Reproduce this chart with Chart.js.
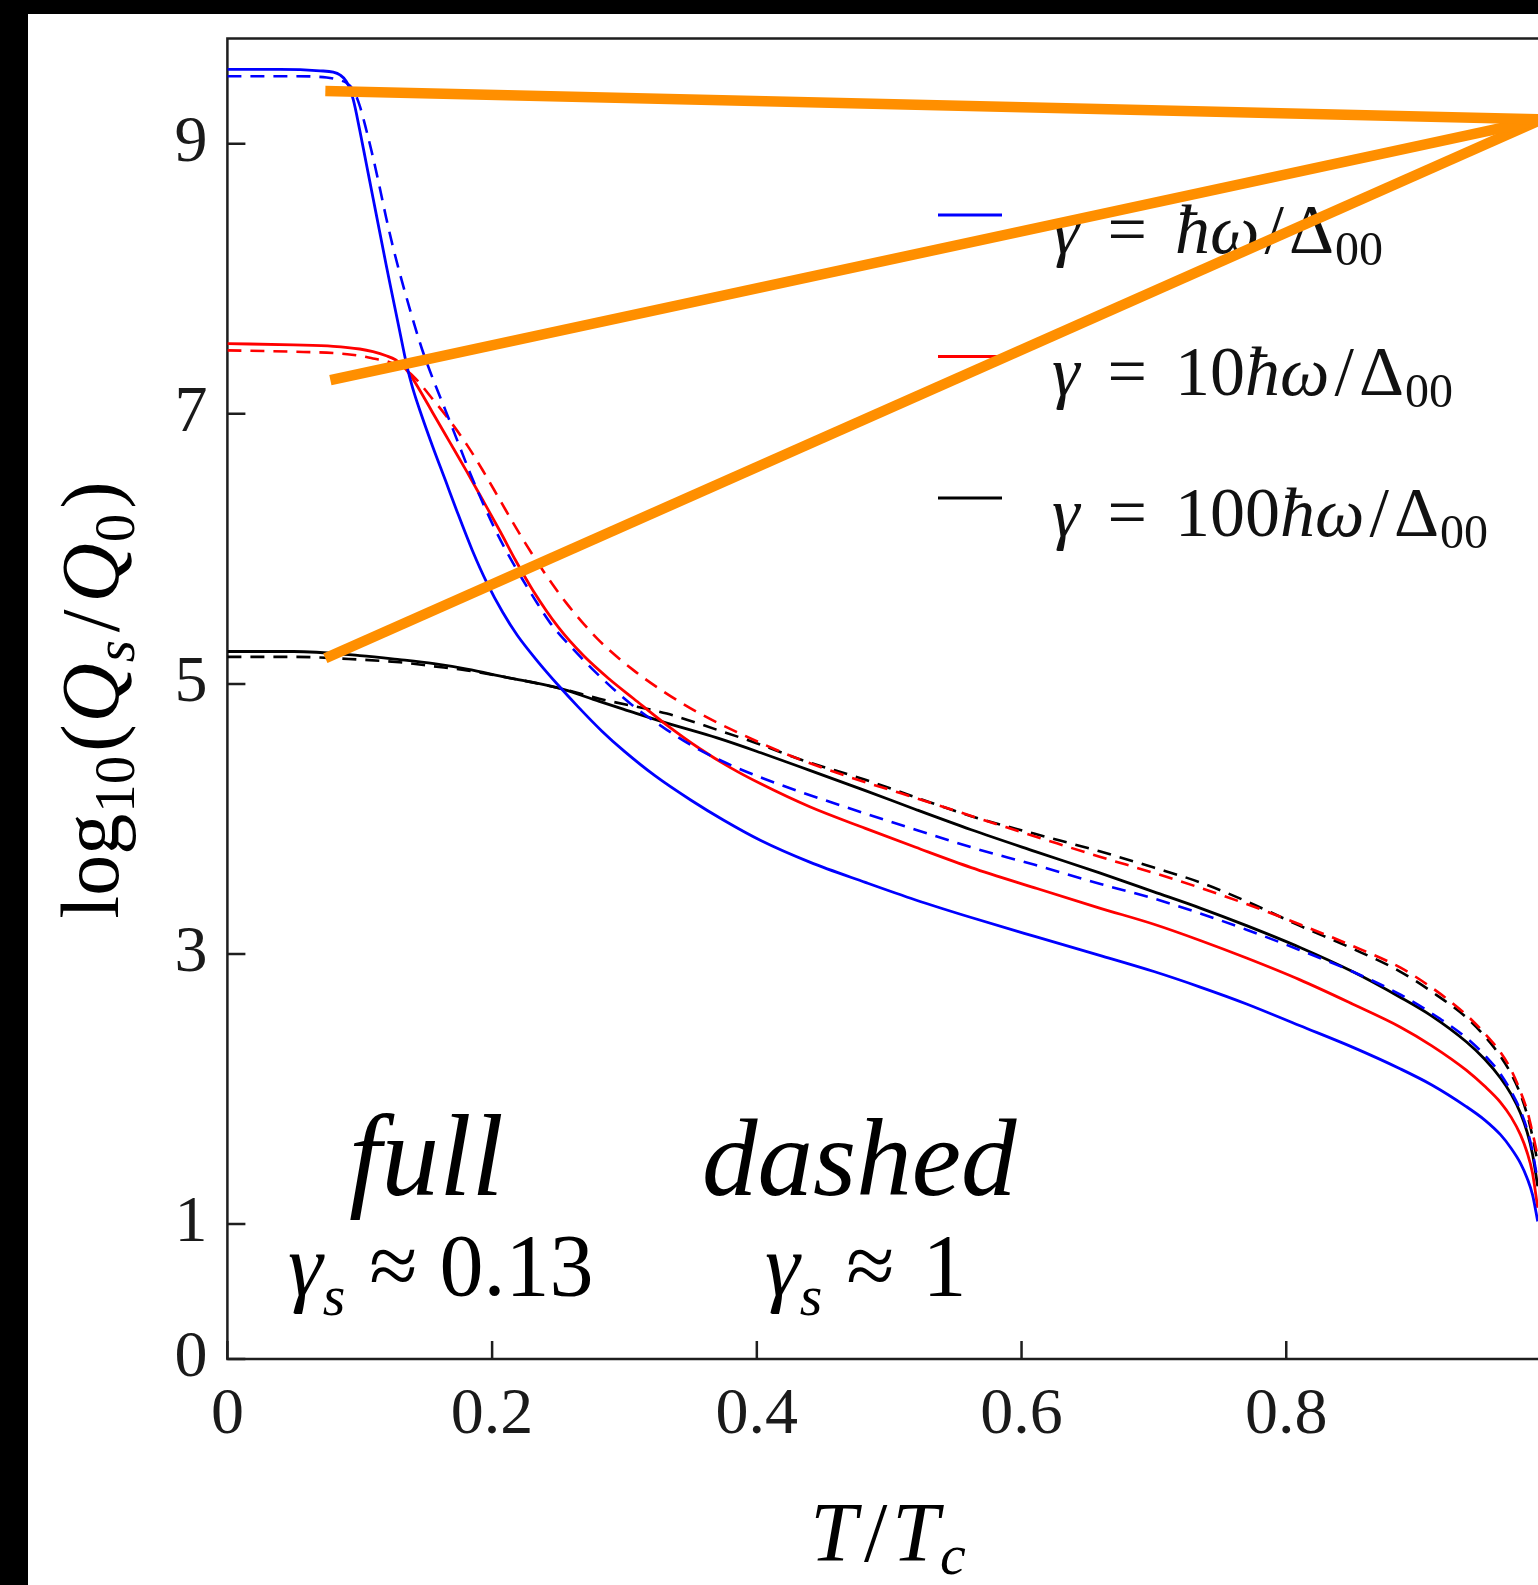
<!DOCTYPE html>
<html>
<head>
<meta charset="utf-8">
<title>Q factor vs temperature</title>
<script src="https://cdn.jsdelivr.net/npm/chart.js@4.4.1/dist/chart.umd.min.js"></script>
<style>
  html, body { margin: 0; padding: 0; background: #000; overflow: hidden; }
  #sheet { position: absolute; left: 28px; top: 14px; width: 1510px; height: 1571px; background: #fff; }
  canvas { display: block; }
</style>
</head>
<body>
<div id="sheet"><canvas id="qsChart" width="1510" height="1571"></canvas></div>
<script>
// log10(Qs/Q0) against T/Tc, pairs of [T/Tc, log10 Q]
// solid: gamma_s ~ 0.13, dashed: gamma_s ~ 1
const blueFull = [
  [0, 9.55], [0.04, 9.55], [0.07, 9.54], [0.08, 9.53], [0.085, 9.51], [0.09, 9.46],
  [0.095, 9.33], [0.1, 9.10], [0.105, 8.85], [0.11, 8.60], [0.115, 8.35], [0.12, 8.10],
  [0.125, 7.86], [0.13, 7.62], [0.1355, 7.36], [0.14, 7.19], [0.147, 6.98], [0.155, 6.76],
  [0.165, 6.50], [0.173, 6.29], [0.185, 5.99], [0.196, 5.75], [0.208, 5.53], [0.219, 5.36],
  [0.235, 5.16], [0.25, 4.99], [0.265, 4.83], [0.283, 4.65], [0.3, 4.50], [0.323, 4.32],
  [0.35, 4.14], [0.375, 3.99], [0.403, 3.84], [0.44, 3.68], [0.482, 3.53], [0.52, 3.40],
  [0.562, 3.27], [0.61, 3.13], [0.659, 2.99], [0.7, 2.87], [0.735, 2.755], [0.77, 2.63],
  [0.81, 2.47], [0.85, 2.31], [0.886, 2.15], [0.91, 2.03], [0.936, 1.87], [0.95, 1.77],
  [0.962, 1.66], [0.97, 1.56], [0.977, 1.45], [0.982, 1.34], [0.986, 1.22], [0.99, 1.02]
];
const blueDashed = [
  [0, 9.50], [0.05, 9.50], [0.075, 9.49], [0.085, 9.47], [0.09, 9.45], [0.095, 9.40],
  [0.1, 9.28], [0.105, 9.10], [0.11, 8.90], [0.115, 8.68], [0.12, 8.45], [0.125, 8.24],
  [0.13, 8.05], [0.138, 7.77], [0.147, 7.48], [0.156, 7.24], [0.165, 7.02], [0.173, 6.82],
  [0.183, 6.57], [0.193, 6.34], [0.205, 6.09], [0.219, 5.84], [0.232, 5.63], [0.244, 5.45],
  [0.26, 5.27], [0.281, 5.06], [0.305, 4.85], [0.332, 4.66], [0.355, 4.52], [0.38, 4.40],
  [0.405, 4.30], [0.433, 4.20], [0.482, 4.04], [0.52, 3.92], [0.562, 3.79], [0.61, 3.66],
  [0.659, 3.52], [0.7, 3.41], [0.735, 3.30], [0.77, 3.18], [0.81, 3.03], [0.85, 2.87],
  [0.886, 2.70], [0.91, 2.56], [0.936, 2.38], [0.95, 2.25], [0.962, 2.11], [0.97, 1.98],
  [0.977, 1.84], [0.982, 1.70], [0.986, 1.54], [0.99, 1.32]
];
const redFull = [
  [0, 7.52], [0.05, 7.51], [0.08, 7.50], [0.1, 7.48], [0.11, 7.46], [0.12, 7.43],
  [0.127, 7.40], [0.133, 7.35], [0.138, 7.29], [0.145, 7.18], [0.155, 7.01], [0.168, 6.79],
  [0.181, 6.57], [0.193, 6.36], [0.206, 6.13], [0.218, 5.91], [0.231, 5.69], [0.25, 5.42],
  [0.269, 5.21], [0.288, 5.04], [0.307, 4.89], [0.33, 4.71], [0.357, 4.52], [0.38, 4.38],
  [0.403, 4.26], [0.44, 4.09], [0.482, 3.93], [0.52, 3.79], [0.562, 3.64], [0.61, 3.49],
  [0.659, 3.34], [0.7, 3.22], [0.735, 3.10], [0.77, 2.97], [0.81, 2.81], [0.85, 2.63],
  [0.886, 2.46], [0.91, 2.32], [0.936, 2.14], [0.95, 2.02], [0.962, 1.90], [0.97, 1.79],
  [0.977, 1.66], [0.982, 1.53], [0.986, 1.38], [0.99, 1.12]
];
const redDashed = [
  [0, 7.47], [0.05, 7.46], [0.08, 7.45], [0.1, 7.43], [0.11, 7.41], [0.12, 7.39],
  [0.13, 7.35], [0.138, 7.30], [0.145, 7.23], [0.155, 7.11], [0.168, 6.95], [0.181, 6.77],
  [0.193, 6.58], [0.206, 6.36], [0.219, 6.14], [0.237, 5.86], [0.256, 5.60], [0.28, 5.33],
  [0.307, 5.10], [0.33, 4.94], [0.357, 4.78], [0.39, 4.62], [0.43, 4.45], [0.47, 4.31],
  [0.509, 4.19], [0.55, 4.06], [0.588, 3.94], [0.62, 3.84], [0.659, 3.72], [0.7, 3.60],
  [0.735, 3.49], [0.77, 3.37], [0.81, 3.22], [0.85, 3.06], [0.886, 2.90], [0.91, 2.75],
  [0.936, 2.55], [0.95, 2.41], [0.962, 2.27], [0.97, 2.14], [0.977, 1.98], [0.982, 1.84],
  [0.986, 1.68], [0.99, 1.50]
];
const blackFull = [
  [0, 5.24], [0.05, 5.24], [0.1, 5.21], [0.13, 5.18], [0.156, 5.15], [0.181, 5.11],
  [0.21, 5.05], [0.25, 4.97], [0.281, 4.87], [0.3, 4.81], [0.332, 4.71], [0.37, 4.60],
  [0.403, 4.49], [0.44, 4.36], [0.482, 4.21], [0.52, 4.07], [0.562, 3.92], [0.61, 3.76],
  [0.659, 3.60], [0.7, 3.46], [0.735, 3.34], [0.77, 3.21], [0.81, 3.05], [0.85, 2.87],
  [0.886, 2.68], [0.91, 2.54], [0.936, 2.35], [0.95, 2.22], [0.962, 2.08], [0.97, 1.96],
  [0.977, 1.82], [0.982, 1.68], [0.986, 1.52], [0.99, 1.28]
];
const blackDashed = [
  [0, 5.20], [0.05, 5.20], [0.1, 5.18], [0.13, 5.16], [0.156, 5.13], [0.181, 5.10],
  [0.21, 5.05], [0.25, 4.97], [0.281, 4.89], [0.332, 4.78], [0.37, 4.66], [0.403, 4.55],
  [0.433, 4.44], [0.482, 4.29], [0.52, 4.16], [0.562, 4.02], [0.61, 3.89], [0.659, 3.76],
  [0.7, 3.64], [0.735, 3.53], [0.77, 3.39], [0.81, 3.21], [0.85, 3.04], [0.886, 2.87],
  [0.91, 2.72], [0.936, 2.53], [0.95, 2.39], [0.962, 2.24], [0.97, 2.11], [0.977, 1.96],
  [0.982, 1.81], [0.986, 1.65], [0.99, 1.45]
];

// orange pointers from the three plateaus to a common vertex
const pointerStarts = [[0.074, 9.39], [0.0778, 7.25], [0.074, 5.19]];
const pointerVertex = [0.993, 9.18];

const xTicks = [0, 0.2, 0.4, 0.6, 0.8];
const yTicks = [0, 1, 3, 5, 7, 9];
const legendCoefs = ['', '10', '100'];

const serif = '"Liberation Serif", "Times New Roman", serif';
const up = s => `${s}px ${serif}`;
const it = s => `italic ${s}px ${serif}`;
const axisColor = '#1e1e1e';
const tickLen = 18;
const lineColors = ['#0000ff', '#ff0000', '#000000'];

function toXY(pts) {
    return pts.map(([t, q]) => ({ x: t, y: q }));
}

function curve(pts, color, dashed) {
    return {
        data: toXY(pts),
        borderColor: color,
        borderWidth: dashed ? 2.6 : 2.8,
        borderDash: dashed ? [14, 9] : [],
        cubicInterpolationMode: 'monotone',
        pointRadius: 0,
        fill: false,
        order: 2
    };
}

function pointer(start) {
    return {
        data: toXY([start, pointerVertex]),
        borderColor: 'rgb(255,143,0)',
        borderWidth: 10.5,
        borderCapStyle: 'butt',
        tension: 0,
        pointRadius: 0,
        fill: false,
        clip: false,
        order: 0
    };
}

// draw a run of text pieces: [text, font, dy, gapAfter]
function runWidth(ctx, parts) {
    let w = 0;
    parts.forEach(([text, font, dy, gap]) => {
        ctx.font = font;
        w += ctx.measureText(text).width + (gap || 0);
    });
    return w;
}

function drawRun(ctx, x, y, parts) {
    let cx = x;
    parts.forEach(([text, font, dy, gap]) => {
        ctx.font = font;
        ctx.fillText(text, cx, y + (dy || 0));
        cx += ctx.measureText(text).width + (gap || 0);
    });
}

// keep tick-label overhang from pushing the plot area around
function noScalePadding(s) {
    s.paddingTop = 0;
    s.paddingBottom = 0;
    s.paddingLeft = 0;
    s.paddingRight = 0;
}

const decor = {
    id: 'figureDecor',
    beforeDatasetsDraw(chart) {
        const { ctx, chartArea: a, scales: { x, y } } = chart;
        ctx.save();
        ctx.strokeStyle = axisColor;
        ctx.lineWidth = 2.5;
        ctx.lineCap = 'square';

        // frame: top, left and bottom (right side lies past the canvas)
        ctx.beginPath();
        ctx.moveTo(a.right + 4, a.top);
        ctx.lineTo(a.left, a.top);
        ctx.lineTo(a.left, a.bottom);
        ctx.lineTo(a.right + 4, a.bottom);
        ctx.stroke();

        // inward tick marks
        ctx.lineCap = 'butt';
        ctx.beginPath();
        yTicks.forEach(v => {
            const py = y.getPixelForValue(v);
            ctx.moveTo(a.left, py);
            ctx.lineTo(a.left + tickLen, py);
        });
        xTicks.forEach(v => {
            const px = x.getPixelForValue(v);
            ctx.moveTo(px, a.bottom);
            ctx.lineTo(px, a.bottom - tickLen);
        });
        ctx.stroke();

        // legend
        ctx.fillStyle = '#111';
        ctx.textBaseline = 'alphabetic';
        legendCoefs.forEach((coef, i) => {
            const rowY = 201 + i * 141.5;
            ctx.strokeStyle = lineColors[i];
            ctx.lineWidth = 3;
            ctx.beginPath();
            ctx.moveTo(910, rowY);
            ctx.lineTo(974, rowY);
            ctx.stroke();
            drawRun(ctx, 1024, rowY + 38, [
                ['γ', it(70), 0, 28],
                ['=', up(70), 0, 28],
                [coef, up(70), 0, 0],
                ['ħω', it(70), 0, 5],
                ['/', up(70), 0, 5],
                ['Δ', up(70), 0, 1],
                ['00', up(48), 12, 0]
            ]);
        });
        ctx.restore();
    },
    afterDraw(chart) {
        const { ctx } = chart;
        ctx.save();
        ctx.fillStyle = '#000';
        ctx.textBaseline = 'alphabetic';

        // y axis title, rotated
        const yParts = [
            ['log', up(82), 0, 1],
            ['10', up(57), 16, 4],
            ['(', up(82), 0, 2],
            ['Q', it(82), 0, 1],
            ['s', it(57), 16, 8],
            ['/', up(82), 0, 7],
            ['Q', it(82), 0, 1],
            ['0', up(57), 16, 5],
            [')', up(82), 0, 0]
        ];
        ctx.save();
        ctx.translate(90, 686);
        ctx.rotate(-Math.PI / 2);
        drawRun(ctx, -runWidth(ctx, yParts) / 2, 0, yParts);
        ctx.restore();

        // x axis title
        const xParts = [
            ['T', it(84), 0, 7],
            ['/', up(84), 0, 5],
            ['T', it(84), 0, 1],
            ['c', it(58), 13, 0]
        ];
        drawRun(ctx, 860 - runWidth(ctx, xParts) / 2, 1547, xParts);

        // annotations for the two line styles
        drawRun(ctx, 321, 1181, [['full', it(116), 0, 0]]);
        drawRun(ctx, 674, 1181, [['dashed', it(111), 0, 0]]);
        drawRun(ctx, 260, 1281, [
            ['γ', it(88), 0, 0],
            ['s', it(58), 20, 24],
            ['≈', up(88), 0, 22],
            ['0.13', up(88), 0, 0]
        ]);
        drawRun(ctx, 737, 1281, [
            ['γ', it(88), 0, 0],
            ['s', it(58), 20, 24],
            ['≈', up(88), 0, 28],
            ['1', up(88), 0, 0]
        ]);
        ctx.restore();
    }
};

const ctx = document.getElementById('qsChart').getContext('2d');

new Chart(ctx, {
    type: 'line',
    data: {
        datasets: [
            pointer(pointerStarts[0]),
            pointer(pointerStarts[1]),
            pointer(pointerStarts[2]),
            curve(blueFull, lineColors[0], false),
            curve(blueDashed, lineColors[0], true),
            curve(redFull, lineColors[1], false),
            curve(redDashed, lineColors[1], true),
            curve(blackFull, lineColors[2], false),
            curve(blackDashed, lineColors[2], true)
        ]
    },
    options: {
        responsive: false,
        animation: false,
        events: [],
        layout: { padding: { top: 24.4, left: 0, right: 0, bottom: 0 } },
        plugins: {
            legend: { display: false },
            tooltip: { enabled: false }
        },
        scales: {
            x: {
                type: 'linear',
                min: 0,
                max: 0.9902,
                grid: { display: false, drawTicks: false },
                border: { display: false },
                afterBuildTicks: s => { s.ticks = xTicks.map(v => ({ value: v })); },
                afterFit: s => { s.height = 225.9; noScalePadding(s); },
                ticks: {
                    autoSkip: false,
                    maxRotation: 0,
                    padding: 17,
                    color: '#1a1a1a',
                    font: { family: serif, size: 66 },
                    callback: v => String(v)
                }
            },
            y: {
                type: 'linear',
                min: 0,
                max: 9.78,
                grid: { display: false, drawTicks: false },
                border: { display: false },
                afterBuildTicks: s => { s.ticks = yTicks.map(v => ({ value: v })); },
                afterFit: s => { s.width = 199.4; noScalePadding(s); },
                ticks: {
                    autoSkip: false,
                    padding: 20,
                    color: '#1a1a1a',
                    font: { family: serif, size: 66 },
                    callback: v => String(v)
                }
            }
        }
    },
    plugins: [decor]
});
</script>
</body>
</html>
